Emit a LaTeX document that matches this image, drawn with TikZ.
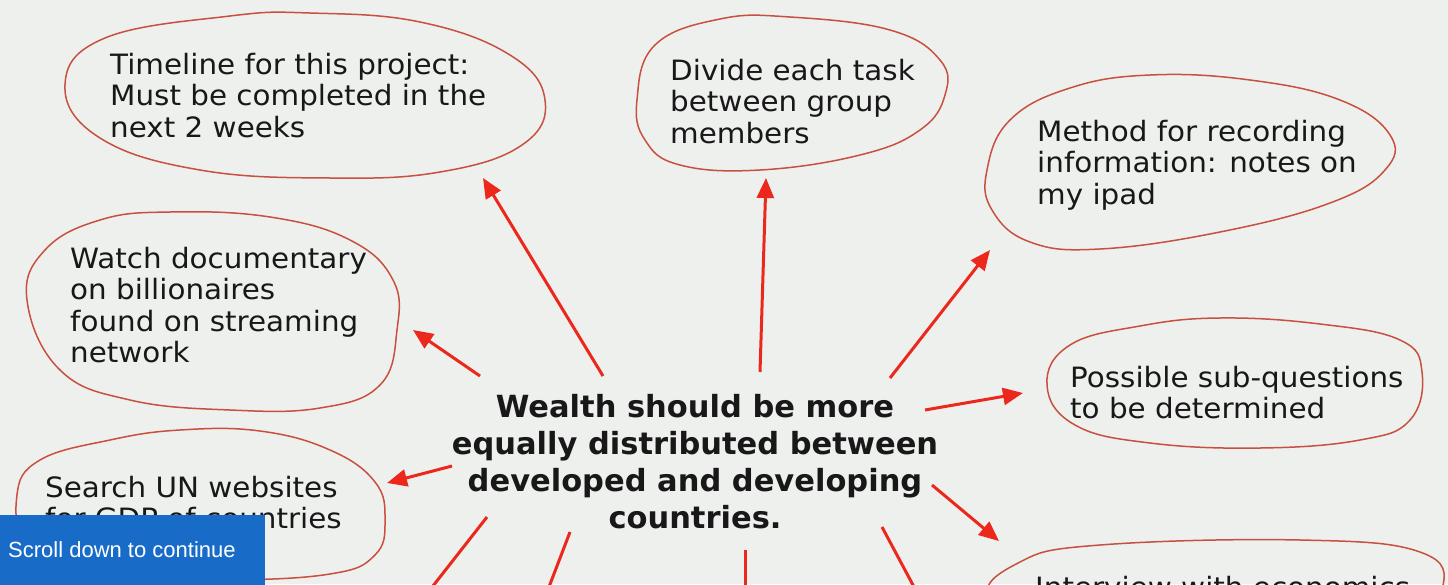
\documentclass[tikz,border=0pt]{standalone}
\usepackage{fontspec}
\setmainfont{DejaVu Sans}
\newfontfamily\leaffont[FakeStretch=1.05]{DejaVu Sans}
\newfontfamily\bannerfont{Liberation Sans}
\usetikzlibrary{arrows.meta}
\definecolor{bgcol}{RGB}{238,240,238}
\definecolor{arrowred}{RGB}{236,40,28}
\definecolor{bubblered}{RGB}{200,80,62}
\definecolor{inkcol}{RGB}{24,24,24}
\definecolor{bannerblue}{RGB}{24,108,200}
\tikzset{
  bubble/.style={draw=bubblered, line width=1.5pt},
  leaf/.style={anchor=north west, inner sep=0pt, align=left, text=inkcol,
    font=\leaffont\fontsize{28}{31.5}\selectfont},
  hub/.style={inner sep=0pt, align=center, text=inkcol,
    font=\bfseries\fontsize{30.5}{37}\selectfont},
  spoke/.style={draw=arrowred, line width=3pt, -{Triangle[length=20pt,width=17pt]}},
  stub/.style={draw=arrowred, line width=3pt},
}
\begin{document}
\begin{tikzpicture}[x=1pt,y=-1pt]
\useasboundingbox (0,0) rectangle (1448,584);
\clip (0,0) rectangle (1448,584);
\fill[bgcol] (0,0) rectangle (1448,584);

% bubbles
\draw[bubble] plot[smooth cycle, tension=0.7] coordinates {(65,85) (105,38) (230,16) (310,13) (420,22) (510,55) (545,100) (522,145) (440,172) (330,178) (200,170) (100,138)};
\draw[bubble] plot[smooth cycle, tension=0.7] coordinates {(637,100) (655,45) (720,19) (790,17) (890,30) (940,60) (945,95) (920,130) (860,155) (760,170) (680,165) (645,140)};
\draw[bubble] plot[smooth cycle, tension=0.7] coordinates {(987,170) (1010,120) (1070,88) (1150,75) (1250,80) (1340,100) (1390,135) (1385,170) (1330,203) (1220,232) (1100,249) (1030,242) (992,210)};
\draw[bubble] plot[smooth cycle, tension=0.7] coordinates {(27,300) (45,250) (100,220) (170,212) (270,217) (350,240) (393,280) (397,330) (380,385) (320,408) (230,410) (130,400) (60,370)};
\draw[bubble] plot[smooth cycle, tension=0.7] coordinates {(1047,385) (1070,345) (1140,326) (1220,318) (1320,324) (1400,340) (1422,372) (1410,420) (1360,440) (1260,448) (1150,443) (1075,425)};
\draw[bubble] plot[smooth cycle, tension=0.7] coordinates {(17,495) (40,460) (110,440) (180,430) (260,431) (330,450) (375,482) (385,520) (375,555) (330,574) (220,580) (100,576) (30,545)};
\draw[bubble] plot[smooth cycle, tension=0.7] coordinates {(993,600) (1020,562) (1100,545) (1300,540) (1420,552) (1442,590) (1400,640) (1100,640)};

% texts
\node[leaf] (timeline) at (110,53) {Timeline for this project:\\Must be completed in the\\next 2 weeks};
\node[leaf] (divide) at (670,59) {Divide each task\\between group\\members};
\node[leaf] (method) at (1037,120) {Method for recording\\information: notes on\\my ipad};
\node[leaf] (watch) at (70,247) {Watch documentary\\on billionaires\\found on streaming\\network};
\node[leaf] (possible) at (1070,366) {Possible sub-questions\\to be determined};
\node[leaf] (search) at (45,476) {Search UN websites\\for GDP of countries};
\node[leaf] (interview) at (1035,576) {Interview with economics};
\node[hub] (hub) at (695,462) {Wealth should be more\\equally distributed between\\developed and developing\\countries.};

% connector end points
\coordinate (t1) at (603,376); \coordinate (h1) at (483,178);
\coordinate (t2) at (760,372); \coordinate (h2) at (766,178);
\coordinate (t3) at (890,378); \coordinate (h3) at (990,250);
\coordinate (t4) at (480,376); \coordinate (h4) at (413,330);
\coordinate (t5) at (925,410); \coordinate (h5) at (1023,393);
\coordinate (t6) at (452,466); \coordinate (h6) at (387,483);
\coordinate (t7) at (932,485); \coordinate (h7) at (999,541);
\coordinate (s1) at (487,517); \coordinate (e1) at (422,600);
\coordinate (s2) at (570,532); \coordinate (e2) at (544,600);
\coordinate (s3) at (745,550); \coordinate (e3) at (745,600);
\coordinate (s4) at (882,527); \coordinate (e4) at (921,600);

\draw[spoke] (t1) -- (h1);
\draw[spoke] (t2) -- (h2);
\draw[spoke] (t3) -- (h3);
\draw[spoke] (t4) -- (h4);
\draw[spoke] (t5) -- (h5);
\draw[spoke] (t6) -- (h6);
\draw[spoke] (t7) -- (h7);
\draw[stub] (s1) -- (e1);
\draw[stub] (s2) -- (e2);
\draw[stub] (s3) -- (e3);
\draw[stub] (s4) -- (e4);

% banner
\fill[bannerblue] (0,515) rectangle (265,600);
\node[anchor=west, inner sep=0pt, text=white, font=\bannerfont\fontsize{22}{26}\selectfont] (banner) at (8,550) {Scroll down to continue};
\end{tikzpicture}
\end{document}
